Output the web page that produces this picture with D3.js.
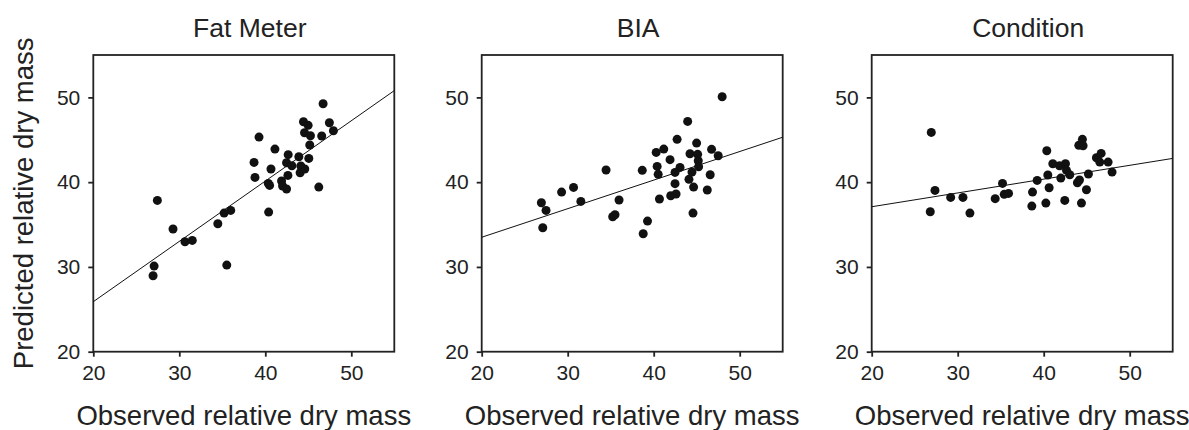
<!DOCTYPE html>
<html><head><meta charset="utf-8">
<script src="https://cdn.jsdelivr.net/npm/d3@7"></script>
<style>
body{margin:0;background:#fff;}
text{font-family:"Liberation Sans",Arial,Helvetica,sans-serif;fill:#222;}
</style></head>
<body>
<svg id="chart" width="1189" height="430"></svg>
<script>
const panelTitles = ["Fat Meter", "BIA", "Condition"];
const xTicks = [20, 30, 40, 50];
const yTicks = [20, 30, 40, 50];
const xLabel = "Observed relative dry mass";
const yLabel = "Predicted relative dry mass";

const fatMeterObs = [26.95,27.07,27.45,29.27,30.66,31.51,34.48,35.21,35.98,35.52,38.69,38.80,39.27,40.35,40.50,40.39,40.66,41.12,41.89,42.01,42.47,42.63,42.47,42.66,43.09,43.90,44.13,44.05,44.59,44.44,44.98,44.56,45.25,45.17,45.06,46.22,46.56,46.72,47.45,47.92];
const fatMeterPred = [28.96,30.10,37.85,34.47,32.97,33.13,35.10,36.35,36.67,30.22,42.33,40.56,45.32,39.85,39.62,36.47,41.55,43.90,40.13,39.54,39.19,40.80,42.29,43.24,41.94,43.00,41.90,41.11,41.55,47.13,46.70,45.83,45.48,44.38,42.80,39.42,45.44,49.25,47.01,46.07];

const biaObs = [26.94,27.48,27.10,29.29,30.68,31.53,34.46,35.23,35.50,35.97,38.67,38.78,39.28,40.29,40.40,40.52,40.67,41.17,41.90,42.48,42.48,41.98,42.60,42.72,43.06,43.95,44.22,44.10,44.45,44.64,44.57,44.99,45.11,45.18,45.22,46.23,46.57,46.73,47.50,47.96];
const biaPred = [37.57,36.67,34.62,38.83,39.38,37.73,41.43,35.92,36.16,37.89,41.39,33.92,35.41,43.51,41.86,40.92,38.01,43.90,42.65,41.15,39.82,38.40,38.60,45.05,41.74,47.17,43.35,40.33,41.19,39.42,36.35,44.61,43.28,42.53,41.82,39.07,40.88,43.87,43.12,50.08];

const conditionObs = [26.93,26.81,27.36,29.18,30.61,31.42,34.36,35.21,35.41,35.91,38.62,38.70,39.24,40.25,40.36,40.48,40.63,41.06,41.84,41.99,42.45,42.53,42.65,43.03,43.92,44.16,44.08,44.50,44.58,44.39,44.97,45.20,46.13,46.68,46.52,47.49,47.95];
const conditionPred = [45.87,36.51,39.03,38.20,38.20,36.35,38.05,39.85,38.56,38.67,37.18,38.83,40.21,37.53,43.71,40.84,39.34,42.17,41.94,40.48,37.85,42.17,41.39,40.88,39.93,40.25,44.34,45.05,44.30,37.53,39.11,40.96,42.88,43.39,42.37,42.37,41.19];

// fitted line: predicted value at x = 20 and at x = 55
const fitAt20 = [25.9, 33.5, 37.1];
const fitAt55 = [50.8, 45.3, 42.8];
const xDomain = [20, 55];
const yDomain = [20, 55];

const obsSets = [fatMeterObs, biaObs, conditionObs];
const predSets = [fatMeterPred, biaPred, conditionPred];

const panelLeft = [93.3, 481.7, 871.7];
const panelWidth = 301;
const plotTop = 55, plotBottom = 351.7;

const svg = d3.select("#chart");

panelTitles.forEach((title, i) => {
  const x = d3.scaleLinear().domain(xDomain).range([panelLeft[i], panelLeft[i] + panelWidth]);
  const y = d3.scaleLinear().domain(yDomain).range([plotBottom, plotTop]);
  const g = svg.append("g");

  // frame
  g.append("rect")
    .attr("x", x(xDomain[0])).attr("y", y(yDomain[1]))
    .attr("width", x(xDomain[1]) - x(xDomain[0]))
    .attr("height", y(yDomain[0]) - y(yDomain[1]))
    .attr("fill", "none").attr("stroke", "#222").attr("stroke-width", 1.8);

  const xAxis = g.append("g").attr("transform", `translate(0,${plotBottom})`)
    .call(d3.axisBottom(x).tickValues(xTicks).tickSize(5).tickPadding(8).tickFormat(d3.format("d")));
  const yAxis = g.append("g").attr("transform", `translate(${panelLeft[i]},0)`)
    .call(d3.axisLeft(y).tickValues(yTicks).tickSize(5).tickPadding(8).tickFormat(d3.format("d")));
  [xAxis, yAxis].forEach(a => {
    a.select(".domain").remove();
    a.selectAll(".tick line").attr("stroke", "#222").attr("stroke-width", 1.8);
    a.selectAll(".tick text").attr("font-size", 21).style("fill", "#222")
      .attr("font-family", "Liberation Sans, Arial, sans-serif");
  });

  // regression line
  g.append("line")
    .attr("x1", x(xDomain[0])).attr("y1", y(fitAt20[i]))
    .attr("x2", x(xDomain[1])).attr("y2", y(fitAt55[i]))
    .attr("stroke", "#111").attr("stroke-width", 1);

  // points
  const pts = obsSets[i].map((o, k) => [o, predSets[i][k]]);
  g.selectAll("circle").data(pts).enter().append("circle")
    .attr("cx", d => x(d[0])).attr("cy", d => y(d[1]))
    .attr("r", 4.5).attr("fill", "#111");

  // title
  g.append("text")
    .attr("x", (x(xDomain[0]) + x(xDomain[1])) / 2 + 6)
    .attr("y", 37)
    .attr("text-anchor", "middle").attr("font-size", 26.5)
    .text(title);

  // x label
  g.append("text")
    .attr("x", (x(xDomain[0]) + x(xDomain[1])) / 2)
    .attr("y", 425)
    .attr("text-anchor", "middle").attr("font-size", 27.5)
    .text(xLabel);
});

svg.append("text")
  .attr("transform", `translate(33,${(plotTop + plotBottom) / 2}) rotate(-90)`)
  .attr("text-anchor", "middle").attr("font-size", 27.5)
  .text(yLabel);
</script>
</body></html>
